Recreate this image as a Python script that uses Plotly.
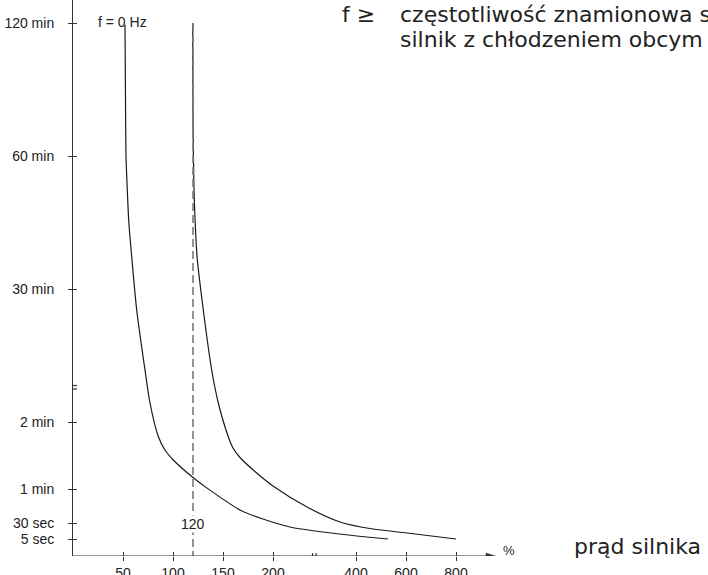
import numpy as np
import plotly.graph_objects as go

# Motor current in % of rated current, permitted time in seconds
current_0hz = [52, 52.5, 53, 54.3, 55.8, 58.7, 63.7, 72, 77, 85.3, 92, 100.3, 120.3, 133.7, 167, 187, 241, 320, 404, 528]
time_0hz = [7150, 5116, 3600, 3140, 2707, 2237, 1535, 777, 360, 107, 94.9, 86, 70, 61, 41.5, 34.4, 23.8, 15.9, 9.7, 5]

current_rated = [119.7, 120, 121, 122.3, 124, 130.3, 138.7, 145.3, 155.3, 160, 167, 183.7, 200, 282, 361.5, 468, 604, 800]
time_rated = [7200, 4575, 3140, 2666, 2246, 1535, 777, 360, 106.8, 96.7, 88.2, 74.3, 62.7, 44.1, 30.9, 20.6, 14.4, 5]

limit_current = 120

x_tick_values = [50, 100, 150, 200, 400, 600, 800]
x_tick_labels = ["50", "100", "150", "200", "400", "600", "800"]
y_tick_values = [5, 30, 60, 120, 1800, 3600, 7200]
y_tick_labels = ["5 sec", "30 sec", "1 min", "2 min", "30 min", "60 min", "120 min"]

# Broken (piecewise-linear) scales of both axes: value -> axis position
X_KNOTS = ([0, 200, 400, 600, 800], [0, 200, 283, 333, 383])
Y_KNOTS = ([0, 5, 30, 60, 120, 1800, 3600, 7200], [0, 17, 33, 67, 134, 267, 400, 533])


def xs(v):
    return np.interp(v, *X_KNOTS).tolist()


def ys(v):
    return np.interp(v, *Y_KNOTS).tolist()


W, H = 708, 575
ML, MB = 73, 19
PW, PH = W - ML, H - MB

INK = "#1a1a1a"
AXIS = "#333333"
TXT = "#222222"
LABEL_FONT = dict(family="Liberation Sans, Arial, sans-serif", size=14, color=TXT)
BIG_FONT = dict(family="DejaVu Sans, sans-serif", size=22, color=TXT)

fig = go.Figure()

fig.add_trace(go.Scatter(
    x=xs(current_0hz), y=ys(time_0hz), mode="lines",
    line=dict(color=INK, width=1.2, shape="spline", smoothing=0.7),
    hoverinfo="skip", showlegend=False))

fig.add_trace(go.Scatter(
    x=xs(current_rated), y=ys(time_rated), mode="lines",
    line=dict(color=INK, width=1.2, shape="spline", smoothing=0.7),
    hoverinfo="skip", showlegend=False))

fig.add_trace(go.Scatter(
    x=xs([limit_current, limit_current]), y=ys([7200, 0]), mode="lines",
    line=dict(color="#7a7a7a", width=1.6, dash="8px,4px"),
    hoverinfo="skip", showlegend=False))

# invisible trace carrying the overlay axes (inner half of the crossing ticks)
fig.add_trace(go.Scatter(x=[0], y=[0], xaxis="x2", yaxis="y2", mode="markers",
                         marker=dict(opacity=0), hoverinfo="skip", showlegend=False))

common = dict(showgrid=False, zeroline=False, automargin=False, fixedrange=True)

fig.update_layout(
    width=W, height=H, autosize=False,
    margin=dict(l=ML, r=0, t=0, b=MB, pad=0),
    paper_bgcolor="white", plot_bgcolor="white",
    xaxis=dict(range=[0, PW], tickmode="array", tickvals=xs(x_tick_values),
               ticktext=x_tick_labels, ticks="outside", ticklen=4, tickwidth=1,
               tickcolor=AXIS, showline=False, tickfont=LABEL_FONT,
               ticklabelstandoff=0, **common),
    yaxis=dict(range=[0, PH], tickmode="array", tickvals=ys(y_tick_values),
               ticktext=y_tick_labels, ticks="outside", ticklen=4, tickwidth=1,
               tickcolor=AXIS, showline=True, linecolor=AXIS, linewidth=1,
               tickfont=LABEL_FONT, ticklabelstandoff=11, **common),
    xaxis2=dict(range=[0, PW], overlaying="x", anchor="y2", tickmode="array",
                tickvals=xs(x_tick_values), ticks="inside", ticklen=4, tickwidth=1,
                tickcolor=AXIS, showticklabels=False, showline=False, **common),
    yaxis2=dict(range=[0, PH], overlaying="y", anchor="x2", tickmode="array",
                tickvals=ys(y_tick_values), ticks="inside", ticklen=4, tickwidth=1,
                tickcolor=AXIS, showticklabels=False, showline=False, **common),
)

shapes = [
    # horizontal axis with arrow head
    dict(type="line", xref="x", yref="y", x0=0, y0=0, x1=414, y1=0,
         line=dict(color=AXIS, width=1)),
    dict(type="path", xref="x", yref="y", path="M 422,0 L 413,3 L 413,-3 Z",
         fillcolor=AXIS, line=dict(color=AXIS, width=0.5)),
    # axis break marks
    dict(type="line", xref="x", yref="y", x0=-4, y0=167, x1=4, y1=167,
         line=dict(color=AXIS, width=1.2)),
    dict(type="line", xref="x", yref="y", x0=-4, y0=170.5, x1=4, y1=170.5,
         line=dict(color=AXIS, width=1.2)),
    dict(type="line", xref="x", yref="y", x0=239.5, y0=-3, x1=239.5, y1=3,
         line=dict(color=AXIS, width=1.2)),
    dict(type="line", xref="x", yref="y", x0=243, y0=-3, x1=243, y1=3,
         line=dict(color=AXIS, width=1.2)),
]
fig.update_layout(shapes=shapes)

annotations = [
    dict(text="f = 0 Hz", x=23, y=534, xanchor="left", yanchor="middle",
         font=dict(LABEL_FONT, size=14)),
    dict(text=str(limit_current), x=xs(limit_current), y=32, xanchor="center",
         yanchor="middle", bgcolor="white", borderpad=0, font=LABEL_FONT),
    dict(text="%", x=436, y=6, xanchor="center", yanchor="middle",
         font=dict(LABEL_FONT, size=13)),
    dict(text="prąd silnika", x=499, y=10, xanchor="left", yanchor="middle",
         font=BIG_FONT),
    dict(text="f ≥", x=267, y=542, xanchor="left", yanchor="middle", font=BIG_FONT),
    dict(text="częstotliwość znamionowa silnika", x=325, y=542, xanchor="left",
         yanchor="middle", font=BIG_FONT),
    dict(text="silnik z chłodzeniem obcym", x=325, y=517, xanchor="left",
         yanchor="middle", font=BIG_FONT),
]
for a in annotations:
    a.update(xref="x", yref="y", showarrow=False)
fig.update_layout(annotations=annotations)

fig.write_html("out.html", config={"displayModeBar": False})
